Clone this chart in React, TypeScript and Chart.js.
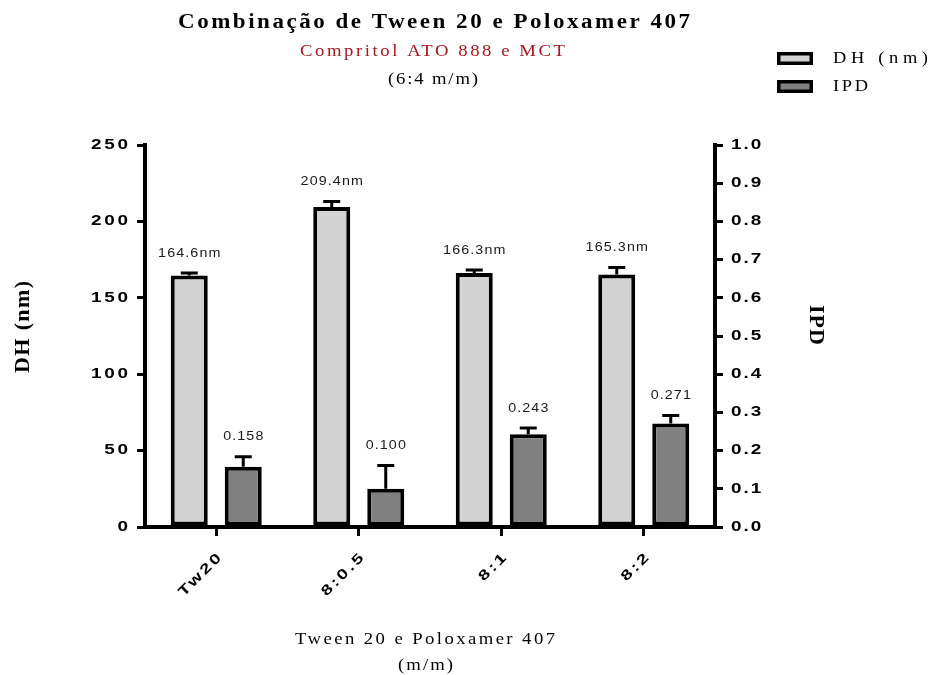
import React, { useEffect, useRef } from "react";
import { Chart, registerables } from "chart.js";

Chart.register(...registerables);

// ---------- data ----------
const categories = ["Tw20", "8:0.5", "8:1", "8:2"];
const dhLabel = "DH (nm)";
const ipdLabel = "IPD";
const dhValues = [164.6, 209.4, 166.3, 165.3];
const dhErrors = [1.6, 3.6, 1.9, 4.6];
const ipdValues = [0.158, 0.1, 0.243, 0.271];
const ipdErrors = [0.026, 0.061, 0.016, 0.021];
const dhValueLabels = ["164.6nm", "209.4nm", "166.3nm", "165.3nm"];
const ipdValueLabels = ["0.158", "0.100", "0.243", "0.271"];
const titleText = "Combinação de Tween 20 e Poloxamer 407";
const subtitleText = "Compritol ATO 888 e MCT";
const ratioText = "(6:4 m/m)";
const xTitleLines = ["Tween 20 e Poloxamer 407", "(m/m)"];
const yTitleText = "DH (nm)";
const y1TitleText = "IPD";

const SANS = '"Liberation Sans", Arial, sans-serif';
const SERIF = '"Liberation Serif", "Times New Roman", serif';

type TOpt = {
  font: string;
  color?: string;
  spacing?: number;
  width?: number;
  sx?: number;
  align?: "left" | "right" | "center";
  rot?: number;
};

function drawText(ctx: CanvasRenderingContext2D, text: string, x: number, y: number, o: TOpt) {
  ctx.save();
  ctx.translate(x, y);
  if (o.rot) ctx.rotate(o.rot);
  const sx = o.sx ?? 1;
  ctx.scale(sx, 1);
  ctx.font = o.font;
  ctx.fillStyle = o.color ?? "#000";
  ctx.textBaseline = "middle";
  ctx.textAlign = "left";
  (ctx as any).letterSpacing = "0px";
  const w0 = ctx.measureText(text).width;
  const n = Array.from(text).length;
  let s = o.spacing ?? 0;
  if (o.width != null) s = (o.width / sx - w0) / Math.max(1, n - 1);
  const total = w0 + s * (n - 1);
  (ctx as any).letterSpacing = s + "px";
  const align = o.align ?? "center";
  const x0 = align === "left" ? 0 : align === "right" ? -total : -total / 2;
  ctx.fillText(text, x0, 0);
  ctx.restore();
}

const errorBarPlugin = {
  id: "errorBars",
  afterDatasetsDraw(chart: any) {
    const ctx: CanvasRenderingContext2D = chart.ctx;
    const sets = [
      { idx: 0, errs: dhErrors, vals: dhValues, labels: dhValueLabels, scale: chart.scales.y },
      { idx: 1, errs: ipdErrors, vals: ipdValues, labels: ipdValueLabels, scale: chart.scales.y1 },
    ];
    sets.forEach((s) => {
      const meta = chart.getDatasetMeta(s.idx);
      meta.data.forEach((bar: any, i: number) => {
        const top = s.scale.getPixelForValue(s.vals[i] + s.errs[i]);
        ctx.save();
        ctx.strokeStyle = "#000";
        ctx.lineWidth = 3;
        ctx.beginPath();
        ctx.moveTo(bar.x, bar.y);
        ctx.lineTo(bar.x, top);
        ctx.moveTo(bar.x - 8.5, top);
        ctx.lineTo(bar.x + 8.5, top);
        ctx.stroke();
        ctx.restore();
        drawText(ctx, s.labels[i], bar.x, top - 20, {
          font: `13px ${SANS}`,
          color: "#1a1a1a",
          sx: 1.1,
          spacing: 1,
        });
      });
    });
  },
  afterDraw(chart: any) {
    const ctx: CanvasRenderingContext2D = chart.ctx;
    const y = chart.scales.y;
    const y1 = chart.scales.y1;
    const x = chart.scales.x;
    const tickFont = `bold 14px ${SANS}`;
    y.ticks.forEach((t: any, i: number) => {
      drawText(ctx, String(Math.round(t.value)), 128, y.getPixelForTick(i), {
        font: tickFont, sx: 1.35, spacing: 2, align: "right",
      });
    });
    y1.ticks.forEach((t: any, i: number) => {
      drawText(ctx, Number(t.value).toFixed(1), 731, y1.getPixelForTick(i), {
        font: tickFont, sx: 1.35, spacing: 1.5, align: "left",
      });
    });
    categories.forEach((c, i) => {
      const px = x.getPixelForTick(i);
      drawText(ctx, c, px + 3, 556, {
        font: tickFont, sx: 1.35, spacing: 2, align: "right", rot: -Math.PI / 4,
      });
    });

    // titles
    drawText(ctx, titleText, 434, 23, { font: `bold 20px ${SERIF}`, sx: 1.15, width: 512 });
    drawText(ctx, subtitleText, 432.5, 52, { font: `17px ${SERIF}`, sx: 1.1, width: 265, color: "#a8171c" });
    drawText(ctx, ratioText, 433, 80, { font: `17px ${SERIF}`, sx: 1.1, width: 90 });
    drawText(ctx, xTitleLines[0], 425, 640, { font: `17px ${SERIF}`, sx: 1.1, width: 260 });
    drawText(ctx, xTitleLines[1], 425.5, 666, { font: `17px ${SERIF}`, sx: 1.1, width: 55 });
    drawText(ctx, yTitleText, 23, 327, { font: `bold 22px ${SERIF}`, sx: 1.0, width: 92, rot: -Math.PI / 2 });
    drawText(ctx, y1TitleText, 816, 325, { font: `bold 22px ${SERIF}`, sx: 1.0, width: 40, rot: Math.PI / 2 });

    // legend
    const ds = chart.data.datasets;
    const rows = [58.5, 86.5];
    ds.forEach((d: any, i: number) => {
      const cy = rows[i];
      ctx.save();
      ctx.fillStyle = d.backgroundColor;
      ctx.fillRect(777, cy - 6.5, 36, 13);
      ctx.strokeStyle = "#000";
      ctx.lineWidth = 3.5;
      ctx.strokeRect(778.75, cy - 4.75, 32.5, 9.5);
      ctx.restore();
      drawText(ctx, d.label, 833, cy + 0.5, {
        font: `16px ${SERIF}`, sx: 1.15, width: i === 0 ? 95 : 35, align: "left",
      });
    });
  },
};

export default function App() {
  const ref = useRef<HTMLCanvasElement | null>(null);
  useEffect(() => {
    if (!ref.current) return;
    const axisGrid = {
      display: true,
      drawOnChartArea: false,
      drawTicks: true,
      tickLength: 8,
      lineWidth: 3,
      color: "#000",
    };
    const axisBorder = { display: true, color: "#000", width: 4 };
    const chart = new Chart(ref.current, {
      type: "bar",
      data: {
        labels: categories,
        datasets: [
          {
            label: dhLabel,
            data: dhValues,
            yAxisID: "y",
            backgroundColor: "#d3d3d3",
            borderColor: "#000",
            borderWidth: 4,
            borderSkipped: false,
            categoryPercentage: 0.758,
            barPercentage: 0.685,
          },
          {
            label: ipdLabel,
            data: ipdValues,
            yAxisID: "y1",
            backgroundColor: "#808080",
            borderColor: "#000",
            borderWidth: 4,
            borderSkipped: false,
            categoryPercentage: 0.758,
            barPercentage: 0.685,
          },
        ],
      },
      options: {
        responsive: false,
        animation: false,
        devicePixelRatio: 1,
        layout: { padding: { top: 145, left: 0, right: 0, bottom: 0 } },
        plugins: {
          legend: { display: false },
          title: { display: false },
          tooltip: { enabled: false },
        },
        scales: {
          x: {
            offset: true,
            grid: { ...axisGrid, tickLength: 9, offset: false },
            border: axisBorder,
            ticks: { display: false },
            afterFit: (s: any) => {
              s.height = 148;
            },
          },
          y: {
            position: "left",
            min: 0,
            max: 250,
            ticks: { display: false, stepSize: 50 },
            grid: axisGrid,
            border: axisBorder,
            afterFit: (s: any) => {
              s.width = 145;
            },
          },
          y1: {
            position: "right",
            min: 0,
            max: 1,
            ticks: { display: false, stepSize: 0.1 },
            grid: axisGrid,
            border: axisBorder,
            afterFit: (s: any) => {
              s.width = 216;
            },
          },
        },
      } as any,
      plugins: [errorBarPlugin],
    });
    return () => chart.destroy();
  }, []);
  return (
    <div style={{ position: "absolute", left: 0, top: 0, width: 931, height: 675, background: "#fff" }}>
      <canvas ref={ref} width={931} height={675} style={{ display: "block" }} />
    </div>
  );
}
